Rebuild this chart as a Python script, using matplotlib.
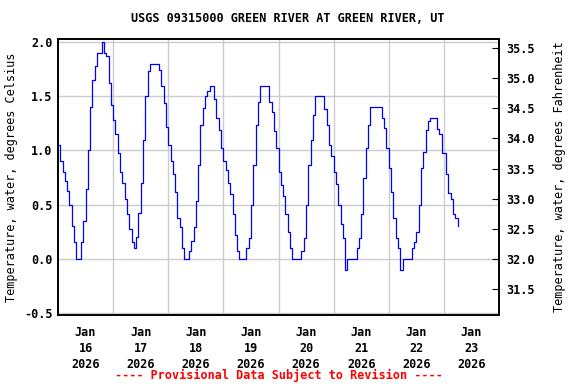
import numpy as np
import pandas as pd
import matplotlib
matplotlib.use("Agg")
import matplotlib.pyplot as plt
import matplotlib.dates as mdates

# hourly water temperature (deg C), starting Jan 16 00:00
temp_c = [
    1.05, 0.9, 0.8, 0.72, 0.63, 0.5, 0.3, 0.15, 0.0, 0.0,
    0.15, 0.35, 0.64, 1.0, 1.4, 1.65, 1.78, 1.9, 1.9, 2.0,
    1.9, 1.87, 1.62, 1.42, 1.28, 1.15, 0.98, 0.8, 0.7, 0.55,
    0.41, 0.27, 0.15, 0.1, 0.2, 0.42, 0.7, 1.1, 1.5, 1.73,
    1.8, 1.8, 1.8, 1.8, 1.74, 1.6, 1.44, 1.22, 1.05, 0.9,
    0.78, 0.62, 0.38, 0.29, 0.1, 0.0, 0.0, 0.07, 0.16, 0.29,
    0.53, 0.87, 1.24, 1.39, 1.5, 1.55, 1.6, 1.6, 1.48, 1.3,
    1.19, 1.02, 0.9, 0.82, 0.7, 0.6, 0.41, 0.22, 0.07, 0.0,
    0.0, 0.0, 0.1, 0.19, 0.5, 0.87, 1.24, 1.45, 1.6, 1.6,
    1.6, 1.6, 1.45, 1.36, 1.18, 1.02, 0.8, 0.68, 0.58, 0.41,
    0.25, 0.1, 0.0, 0.0, 0.0, 0.0, 0.07, 0.19, 0.5, 0.87,
    1.1, 1.33, 1.5, 1.5, 1.5, 1.5, 1.38, 1.24, 1.05, 0.95,
    0.8, 0.69, 0.5, 0.32, 0.19, -0.1, 0.0, 0.0, 0.0, 0.0,
    0.1, 0.19, 0.41, 0.75, 1.02, 1.24, 1.4, 1.4, 1.4, 1.4,
    1.4, 1.3, 1.21, 1.02, 0.84, 0.62, 0.38, 0.19, 0.1, -0.1,
    0.0, 0.0, 0.0, 0.0, 0.1, 0.15, 0.25, 0.5, 0.84, 0.99,
    1.19, 1.27, 1.3, 1.3, 1.3, 1.2, 1.15, 0.98, 0.98, 0.78,
    0.61, 0.55, 0.41, 0.38, 0.3,
]
day_labels = ["Jan\n16\n2026", "Jan\n17\n2026", "Jan\n18\n2026", "Jan\n19\n2026",
              "Jan\n20\n2026", "Jan\n21\n2026", "Jan\n22\n2026", "Jan\n23\n2026"]
c_ticks = [-0.5, 0.0, 0.5, 1.0, 1.5, 2.0]
f_ticks = [31.5, 32.0, 32.5, 33.0, 33.5, 34.0, 34.5, 35.0, 35.5]

times = pd.date_range("2026-01-16 00:00", periods=len(temp_c), freq="h")

plt.rcParams["font.family"] = "DejaVu Sans Mono"
plt.rcParams["font.weight"] = "bold"
plt.rcParams["font.size"] = 8.5

fig = plt.figure(figsize=(5.76, 3.84), dpi=100)
ax = fig.add_axes([58 / 576, 1 - 315 / 384, 441 / 576, 276 / 384])

ax.plot(times, temp_c, color="#0000ff", lw=0.9, drawstyle="steps-post")

x0 = pd.Timestamp("2026-01-16")
ax.set_xlim(x0, x0 + pd.Timedelta(days=8))
ylo, yhi = -0.52, 2.03
ax.set_ylim(ylo, yhi)

noons = [x0 + pd.Timedelta(days=i, hours=12) for i in range(8)]
mids = [x0 + pd.Timedelta(days=i) for i in range(1, 8)]
ax.set_xticks(noons)
ax.set_xticklabels(day_labels, linespacing=1.3)
ax.set_xticks(mids, minor=True)
ax.tick_params(axis="x", which="both", length=0, pad=8)
ax.grid(True, which="minor", axis="x", color="#cccccc", lw=1)
ax.set_yticks(c_ticks)
ax.set_yticklabels([f"{v:.1f}" for v in c_ticks])
ax.tick_params(axis="y", length=0, pad=4)
ax.grid(True, which="major", axis="y", color="#cccccc", lw=1)
ax.set_axisbelow(True)
for s in ax.spines.values():
    s.set_linewidth(1.2)
ax.set_ylabel("Temperature, water, degrees Celsius", labelpad=4)

ax2 = ax.twinx()
ax2.set_ylim(32 + 1.8 * ylo, 32 + 1.8 * yhi)
ax2.set_yticks(f_ticks)
ax2.set_yticklabels([f"{v:.1f}" for v in f_ticks])
ax2.tick_params(axis="y", direction="in", length=5, pad=5)
ax2.set_ylabel("Temperature, water, degrees Fahrenheit", labelpad=13)
for s in ax2.spines.values():
    s.set_linewidth(1.2)

fig.text(0.5, 1 - 19 / 384, "USGS 09315000 GREEN RIVER AT GREEN RIVER, UT",
         ha="center", va="center")
fig.text(279 / 576, 1 - 375 / 384, "---- Provisional Data Subject to Revision ----",
         ha="center", va="center", color="red")

fig.savefig("out.png", dpi=100)
